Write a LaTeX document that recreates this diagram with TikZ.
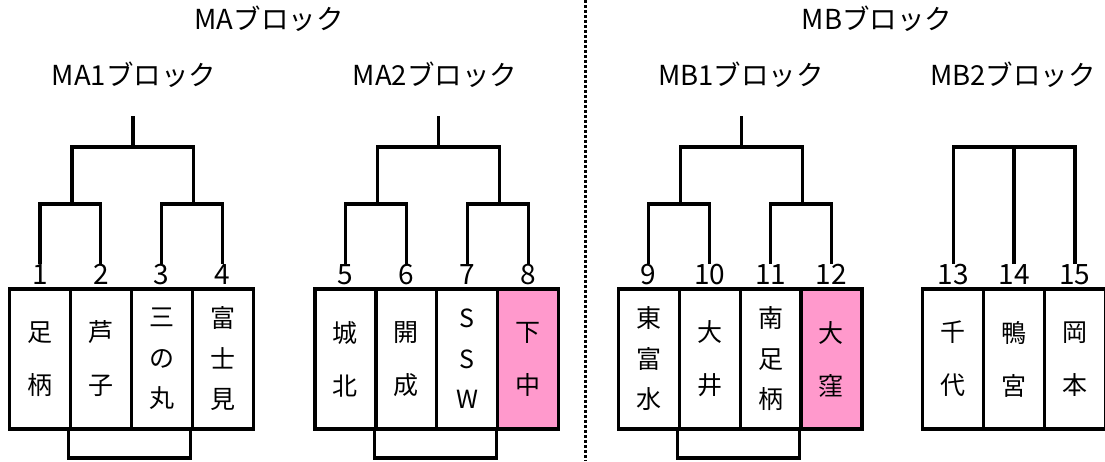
\documentclass[tikz,border=0pt]{standalone}
\usepackage{fontspec}
\setmainfont{Noto Sans CJK JP}
\definecolor{pinkfill}{HTML}{FF99CC}
\tikzset{
  line/.style={line width=3.2pt, line cap=rect},
  team/.style={draw, line width=3.2pt, minimum width=60.9pt, minimum height=140pt, inner sep=0pt, align=center},
  two/.style={font=\fontsize{25}{53}\selectfont},
  three/.style={font=\fontsize{25}{40.5}\selectfont},
  num/.style={anchor=south, inner xsep=0pt, inner ysep=2.5pt, text height=20pt, text depth=0pt, font=\fontsize{28}{28}\selectfont},
  title/.style={font=\fontsize{27.5}{27.5}\selectfont, inner sep=0pt},
  win/.style={fill=pinkfill}
}
\begin{document}
\begin{tikzpicture}[x=1pt, y=-1pt]
\useasboundingbox (0,0) rectangle (1105,461);
% titles
\node[title] (tMA) at (269,19) {MAブロック};
\node[title] (tMB) at (877,19) {MBブロック};
\node[title] (tMA1) at (134,75) {MA1ブロック};
\node[title] (tMA2) at (435,75) {MA2ブロック};
\node[title] (tMB1) at (741,75) {MB1ブロック};
\node[title] (tMB2) at (1013,75) {MB2ブロック};
% separator
\coordinate (sepT) at (585,0);
\coordinate (sepB) at (585,461);
\draw[line width=3pt, dash pattern=on 3pt off 2pt] (sepT) -- (sepB);
% boxes
\def\w{60.9}
\node[team,two]   (b1)  at (9.5+0.5*\w,359) {足\\柄};
\node[team,two]   (b2)  at (9.5+1.5*\w,359) {芦\\子};
\node[team,three] (b3)  at (9.5+2.5*\w,359) {三\\の\\丸};
\node[team,three] (b4)  at (9.5+3.5*\w,359) {富\\士\\見};
\node[team,two]   (b5)  at (315+0.5*\w,359) {城\\北};
\node[team,two]   (b6)  at (315+1.5*\w,359) {開\\成};
\node[team,three] (b7)  at (315+2.5*\w,359) {S\\S\\W};
\node[team,two,win] (b8) at (315+3.5*\w,359) {下\\中};
\node[team,three] (b9)  at (618.3+0.5*\w,359) {東\\富\\水};
\node[team,two]   (b10) at (618.3+1.5*\w,359) {大\\井};
\node[team,three] (b11) at (618.3+2.5*\w,359) {南\\足\\柄};
\node[team,two,win] (b12) at (618.3+3.5*\w,359) {大\\窪};
\node[team,two]   (b13) at (922.7+0.5*\w,359) {千\\代};
\node[team,two]   (b14) at (922.7+1.5*\w,359) {鴨\\宮};
\node[team,two]   (b15) at (922.7+2.5*\w,359) {岡\\本};
% numbers
\foreach \i in {1,...,15} {\node[num] (n\i) at (b\i.north) {\i};}
% brackets of the 4-team blocks
\foreach \a/\b/\c/\d/\k in {1/2/3/4/1, 5/6/7/8/2, 9/10/11/12/3} {
  \coordinate (l\k) at (b\a.east |- 0,204);
  \coordinate (r\k) at (b\c.east |- 0,204);
  \coordinate (top\k) at (b\b.east |- 0,147);
  \coordinate (tip\k) at (b\b.east |- 0,118);
  \draw[line] (n\a.north) |- (l\k) -| (n\b.north);
  \draw[line] (n\c.north) |- (r\k) -| (n\d.north);
  \draw[line] (l\k) |- (top\k) -| (r\k);
  \draw[line] (top\k) -- (tip\k);
  \coordinate (bot\k) at (b\b.south west |- 0,458);
  \draw[line] (b\b.south west) -- (bot\k) -| (b\d.south west);
}
% 3-team block
\coordinate (m14) at (b14 |- 0,147);
\draw[line] (n13.north) |- (m14) -| (n15.north);
\draw[line] (n14.north) -- (m14);
\end{tikzpicture}
\end{document}
